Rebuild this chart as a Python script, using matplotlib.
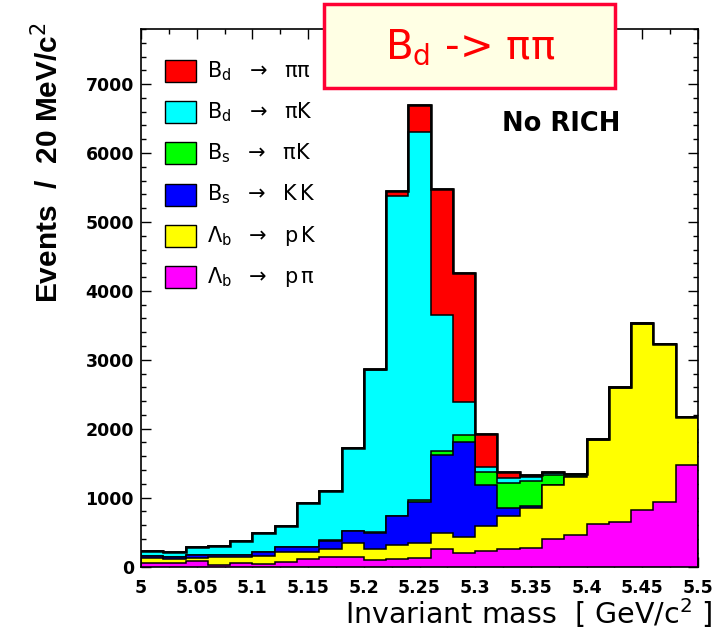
import numpy as np
import matplotlib
matplotlib.use("Agg")
import matplotlib.pyplot as plt
from matplotlib.patches import Rectangle
from matplotlib.ticker import MultipleLocator

plt.rcParams['font.family'] = ['DejaVu Sans']
plt.rcParams['mathtext.fontset'] = 'custom'
plt.rcParams['mathtext.rm'] = 'DejaVu Sans'
plt.rcParams['mathtext.it'] = 'DejaVu Sans:italic'
plt.rcParams['mathtext.bf'] = 'DejaVu Sans:bold'

# ---------------- data ----------------
mass_lo, mass_hi, bin_width = 5.0, 5.5, 0.02
# components (events per 20 MeV bin), stacked bottom -> top
lb_ppi  = [53, 53, 77, 24, 48, 39, 63, 106, 135, 135, 97, 111, 128, 247, 193, 232, 252, 266, 397, 460, 619, 639, 813, 943, 1471]
lb_pk   = [68, 49, 44, 111, 87, 111, 145, 102, 117, 204, 164, 194, 214, 237, 242, 349, 474, 585, 788, 837, 1210, 1954, 2709, 2279, 696]
bs_kk   = [34, 38, 39, 34, 39, 58, 68, 73, 125, 169, 223, 421, 588, 1127, 1370, 604, 125, 34, 0, 0, 0, 0, 0, 0, 0]
bs_pik  = [0, 0, 0, 0, 0, 3, 5, 5, 8, 10, 12, 14, 38, 68, 106, 184, 359, 363, 136, 38, 10, 0, 0, 0, 0]
bd_pik  = [67, 68, 121, 131, 194, 273, 300, 638, 713, 1195, 2358, 4635, 5335, 1974, 474, 73, 72, 58, 34, 10, 8, 5, 5, 5, 5]
bd_pipi = [0, 0, 0, 0, 0, 0, 0, 0, 0, 0, 5, 68, 388, 1829, 1878, 483, 87, 24, 14, 3, 3, 3, 3, 3, 3]

components = [lb_ppi, lb_pk, bs_kk, bs_pik, bd_pik, bd_pipi]
colors = ['#FF00FF', '#FFFF00', '#0000FF', '#00FF00', '#00FFFF', '#FF0000']
labels = [r'$\mathrm{Λ_{b}}\ \ \rightarrow\ \ \mathrm{p\,π}$',
          r'$\mathrm{Λ_{b}}\ \ \rightarrow\ \ \mathrm{p\,K}$',
          r'$\mathrm{B_{s}}\ \ \rightarrow\ \ \mathrm{K\,K}$',
          r'$\mathrm{B_{s}}\ \ \rightarrow\ \ \mathrm{πK}$',
          r'$\mathrm{B_{d}}\ \ \rightarrow\ \ \mathrm{πK}$',
          r'$\mathrm{B_{d}}\ \ \rightarrow\ \ \mathrm{ππ}$']

ytick_vals = [0, 1000, 2000, 3000, 4000, 5000, 6000, 7000]
xtick_vals = [5.0, 5.05, 5.1, 5.15, 5.2, 5.25, 5.3, 5.35, 5.4, 5.45, 5.5]
xtick_labels = ['5', '5.05', '5.1', '5.15', '5.2', '5.25', '5.3', '5.35', '5.4', '5.45', '5.5']

# ---------------- figure ----------------
W, H = 718, 631
fig = plt.figure(figsize=(W / 100, H / 100), dpi=100)
ax = fig.add_axes([141 / W, 1 - 566.5 / H, (698 - 141) / W, (566.5 - 29) / H])

nb = len(lb_ppi)
edges = np.linspace(mass_lo, mass_hi, nb + 1)
cum = np.cumsum(np.array(components, dtype=float), axis=0)

for k in range(len(components) - 1, -1, -1):
    ax.stairs(cum[k], edges, baseline=0, fill=True, facecolor=colors[k],
              edgecolor='black', linewidth=1.1, zorder=2)
ax.stairs(cum[-1], edges, baseline=None, color='black', linewidth=1.8, zorder=3)

ax.set_xlim(mass_lo, mass_hi)
ax.set_ylim(0, 7800)

ax.set_xticks(xtick_vals)
ax.set_xticklabels(xtick_labels)
ax.set_yticks(ytick_vals)
ax.set_yticklabels([str(v) for v in ytick_vals])
ax.xaxis.set_minor_locator(MultipleLocator(0.025))
ax.yaxis.set_minor_locator(MultipleLocator(200))
ax.tick_params(which='both', direction='in', top=True, right=True, width=1.0,
               labelsize=12.5)
ax.tick_params(which='major', length=7.5)
ax.tick_params(which='minor', length=3.8)
ax.tick_params(axis='x', pad=9)
ax.tick_params(axis='y', pad=5)
for lab in ax.get_xticklabels() + ax.get_yticklabels():
    lab.set_fontweight('bold')
for sp in ax.spines.values():
    sp.set_linewidth(1.2)
    sp.set_zorder(4)

ax.set_xlabel('Invariant mass  [ GeV/c$^{2}$ ]', fontsize=20.5, ha='right')
ax.xaxis.set_label_coords(1.025, -0.055)
ax.set_ylabel('Events  /  20 MeV/c$^{2}$', fontsize=21.5, fontweight='bold',
              family=['Liberation Sans'], ha='right')
ax.yaxis.set_label_coords(-0.138, 1.012)

# legend (manual, upper left)
box_x, box_w, box_h = 0.043, 0.056, 0.041
y0, dy = 0.922, 0.0767
for i in range(len(components)):
    k = len(components) - 1 - i
    yc = y0 - i * dy
    ax.add_patch(Rectangle((box_x, yc - box_h / 2), box_w, box_h, transform=ax.transAxes,
                           facecolor=colors[k], edgecolor='black', linewidth=1.0, zorder=5))
    ax.text(0.118, yc, labels[k], transform=ax.transAxes, fontsize=15,
            va='center', ha='left', zorder=5)

ax.text(0.648, 0.823, 'No RICH', transform=ax.transAxes, fontsize=18.5,
        fontweight='bold', ha='left', va='center')

# title box
fig.patches.append(Rectangle((324 / W, 1 - 88 / H), (615 - 324) / W, 84 / H,
                             transform=fig.transFigure, facecolor='#FFFFE4',
                             edgecolor='#FF0033', linewidth=2.5, zorder=10))
fig.text(470 / W, 1 - 47 / H, r'B$_{\mathrm{d}}$ -> ππ', color='#FF0000',
         fontsize=29, ha='center', va='center', zorder=11)

fig.savefig('out.png', dpi=100)
